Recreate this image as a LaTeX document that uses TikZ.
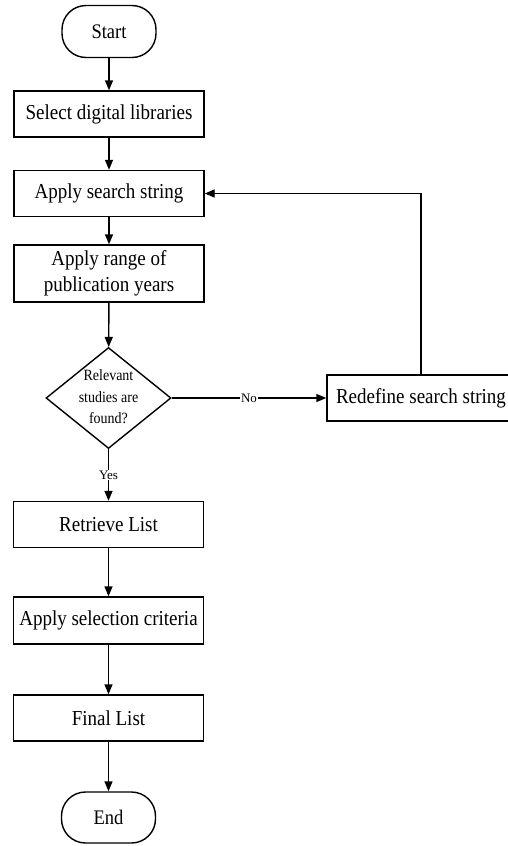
\documentclass[tikz,border=0pt]{standalone}
\usepackage{fontspec}
\usepackage{graphicx}
\setmainfont{Liberation Serif}
\usetikzlibrary{arrows.meta,shapes.geometric}
\newcommand\vst[1]{\scalebox{1}[1.12]{#1}}
\begin{document}
\begin{tikzpicture}[x=1pt,y=-1pt,
 box/.style={draw,line width=1.4pt,minimum width=190pt,minimum height=46pt,inner sep=0pt,font=\fontsize{19}{23}\selectfont,align=center},
 term/.style={draw,line width=1.4pt,rounded corners=24pt,minimum width=94pt,minimum height=52pt,inner sep=0pt,font=\fontsize{18.5}{22}\selectfont},
 dec/.style={draw,diamond,line width=1.4pt,minimum width=125pt,minimum height=101pt,inner sep=0pt,aspect=1.24},
 dectext/.style={inner sep=0pt,font=\fontsize{14}{19}\selectfont,align=center},
 arr/.style={line width=1.4pt,-{Triangle[length=10pt,width=8pt]}},
 lab/.style={fill=white,inner sep=1pt,font=\fontsize{13}{15}\selectfont}]
\useasboundingbox (0,0) rectangle (508,846);
\node[term] (start) at (109,31.5) {\vst{Start}};
\node[box] (sel) at (109,114) {\vst{Select digital libraries}};
\node[box] (srch) at (109,193.5) {\vst{Apply search string}};
\node[box,minimum height=57pt] (range) at (109,273.5) {\vst{\begin{tabular}{@{}c@{}}Apply range of\\publication years\end{tabular}}};
\node[dec] (dec) at (108.5,398) {};
\node[dectext] (dect) at (dec.center) {\vst{\begin{tabular}{@{}c@{}}Relevant\\studies are\\found?\end{tabular}}};
\node[box,minimum width=188pt] (redef) at (421,398) {\vst{Redefine search string}};
\node[box] (retr) at (108.5,524.5) {\vst{Retrieve List}};
\node[box,minimum height=47pt] (crit) at (108.5,620.5) {\vst{Apply selection criteria}};
\node[box] (fin) at (108.5,718) {\vst{Final List}};
\node[term,minimum height=51pt] (end) at (108.5,817.5) {\vst{End}};
\draw[arr] (start) -- (sel);
\draw[arr] (sel) -- (srch);
\draw[arr] (srch) -- (range);
\draw[arr] (range) -- (dec);
\draw[arr] (dec.east) -- node[lab] {No} (dec.east -| redef.west);
\draw[arr] (redef.north) |- (srch.east);
\draw[arr] (dec) -- node[lab] {Yes} (retr);
\draw[arr] (retr) -- (crit);
\draw[arr] (crit) -- (fin);
\draw[arr] (fin) -- (end);
\end{tikzpicture}
\end{document}
